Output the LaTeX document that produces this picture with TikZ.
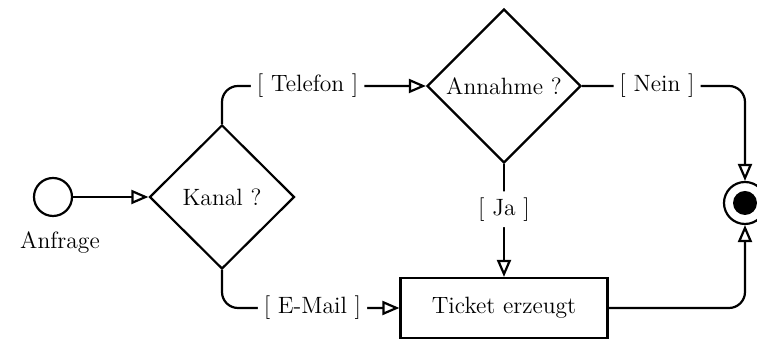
\documentclass[tikz,border=0pt]{standalone}
\usetikzlibrary{shapes.geometric,arrows.meta}
\begin{document}
\begin{tikzpicture}[x=0.5pt,y=-0.5pt,
  line width=1.1pt,
  font=\fontsize{11.8}{14}\selectfont,
  flow/.style={-{Triangle[open,length=8.5pt,width=7pt]},rounded corners=8pt},
  decision/.style={diamond,draw,inner sep=0pt},
  action/.style={rectangle,draw,inner sep=0pt,minimum width=103.5pt,minimum height=30pt},
  guard/.style={fill=white,inner sep=3pt}]
  \useasboundingbox (0,0) rectangle (757,340);

  % start and end states
  \node[circle,draw,minimum size=19pt,inner sep=0pt] (start) at (53,197) {};
  \node[anchor=north] (startlbl) at (60,224) {Anfrage};
  \node[circle,draw,minimum size=21pt,inner sep=0pt] (stop) at (745,203) {};
  \node[circle,fill=black,minimum size=12pt,inner sep=0pt] (stopdot) at (745,203) {};

  % decisions and action
  \node[decision,minimum width=72.5pt,minimum height=72pt] (kanal) at (222,197) {Kanal ?};
  \node[decision,minimum width=77pt,minimum height=77pt] (annahme) at (504,86) {Annahme ?};
  \node[action] (ticket) at (504,308) {Ticket erzeugt};

  % auxiliary points for the bends on the right
  \coordinate (nbend) at (745,86);
  \coordinate (tbend) at (745,308);

  % flows
  \draw[flow] (start) -- (kanal.west);
  \draw[flow] (kanal.north) |- node[guard,pos=0.71] {[ Telefon ]} (annahme.west);
  \draw[flow] (kanal.south) |- node[guard,pos=0.755] {[ E-Mail ]} (ticket.west);
  \draw[flow] (annahme.south) -- node[guard,pos=0.4] {[ Ja ]} (ticket.north);
  \draw[flow] (annahme.east) -- node[guard,pos=0.46] {[ Nein ]} (nbend) -- (stop.north);
  \draw[flow] (ticket.east) -- (tbend) -- (stop.south);
\end{tikzpicture}
\end{document}
